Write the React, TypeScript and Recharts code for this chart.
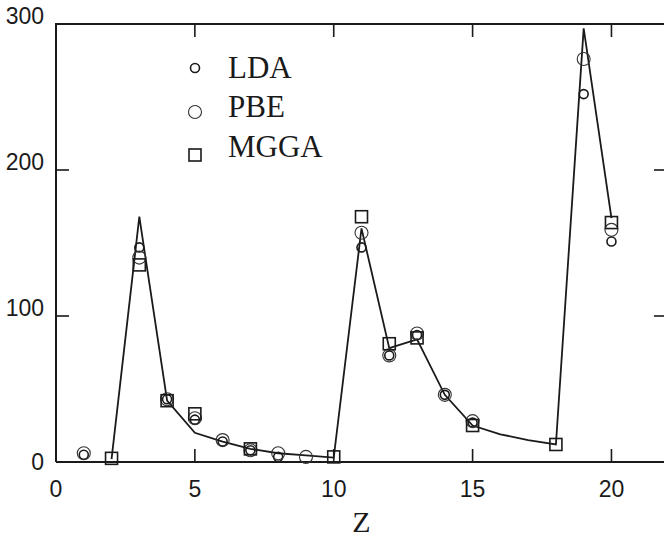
import {
  ComposedChart,
  Line,
  Scatter,
  XAxis,
  YAxis,
  Legend,
} from "recharts";

// atomic number Z and the values
const zValues = [1, 2, 3, 4, 5, 6, 7, 8, 9, 10, 11, 12, 13, 14, 15, 16, 17, 18, 19, 20];
const refCurve = [null, 2, 168, 42, 20, 14, 9, 6, 4.5, 3, 160, 78, 84, 46, 25, 19, 15, 12, 297, 167];
const ldaValues = [5, null, 147, 43, 29, 14, 8, 3.5, null, null, 147, 73, 87, 46, 27, null, null, null, 252, 151];
const pbeValues = [6, null, 140, 43, 30, 15, 8, 6, 3.5, null, 157, 73, 88, 46, 28, null, null, null, 276, 159];
const mggaValues = [null, 2.5, 135, 42, 33, null, 9, null, null, 3.5, 168, 81, 85, null, 25, null, null, 12, null, 164];

const xTicks = [0, 5, 10, 15, 20];
const yTicks = [0, 100, 200, 300];
const X_MIN = 0;
const X_MAX = 22;
const Y_MIN = 0;
const Y_MAX = 300;
// inward tick length (~13px) in axis units
const X_TICK_LEN = 8.9;
const Y_TICK_LEN = 0.47;

const curveData = zValues.map((z, i) => ({ z, v: refCurve[i] }));
const toPoints = (vals: (number | null)[]) =>
  zValues.map((z, i) => ({ z, v: vals[i] })).filter((p) => p.v !== null);

const INK = "#1a1a1a";
const SANS = "'Liberation Sans', Arial, sans-serif";
const SERIF = "'Liberation Serif', 'Times New Roman', serif";
const TICK_PX = 13;
const X_LABEL_GAP = 19;
const Y_LABEL_GAP = 12;

const SmallCircle = (p: any) => (
  <circle cx={p.cx} cy={p.cy} r={4.5} fill="none" stroke={INK} strokeWidth={1.6} />
);
const BigCircle = (p: any) => (
  <circle cx={p.cx} cy={p.cy} r={6.5} fill="none" stroke="#333" strokeWidth={1.1} />
);
const Square = (p: any) => (
  <rect x={p.cx - 6} y={p.cy - 6} width={12} height={12} fill="none" stroke={INK} strokeWidth={1.6} />
);
const NoShape = () => <g />;

// left labels + inward ticks
const YTick = (p: any) => {
  const v = p.payload.value;
  return (
    <g>
      <text
        x={p.x}
        y={p.y}
        dy={v === 0 ? 0 : -8}
        textAnchor="end"
        dominantBaseline="central"
        fill={INK}
        fontSize={23}
        fontFamily={SANS}
      >
        {v}
      </text>
      {v !== Y_MIN && v !== Y_MAX && (
        <rect x={p.x + Y_LABEL_GAP} y={p.y - 0.8} width={TICK_PX} height={1.6} fill={INK} />
      )}
    </g>
  );
};

// bottom labels + inward ticks
const XTick = (p: any) => {
  const v = p.payload.value;
  return (
    <g>
      <text
        x={p.x}
        y={p.y}
        dy="0.71em"
        textAnchor="middle"
        fill={INK}
        fontSize={23}
        fontFamily={SANS}
      >
        {v}
      </text>
      {v !== X_MIN && (
        <rect x={p.x - 0.8} y={p.y - X_LABEL_GAP - TICK_PX} width={1.6} height={TICK_PX} fill={INK} />
      )}
    </g>
  );
};

const LegendBox = () => (
  <svg width={200} height={130} style={{ display: "block" }}>
    <circle cx={35} cy={28} r={4.5} fill="none" stroke={INK} strokeWidth={1.6} />
    <text x={68} y={38} fontSize={31} fontFamily={SERIF} fill={INK}>LDA</text>
    <circle cx={35} cy={72} r={6.5} fill="none" stroke="#333" strokeWidth={1.1} />
    <text x={68} y={77} fontSize={31} fontFamily={SERIF} fill={INK}>PBE</text>
    <rect x={29} y={109} width={12} height={12} fill="none" stroke={INK} strokeWidth={1.6} />
    <text x={68} y={117} fontSize={31} fontFamily={SERIF} fill={INK}>MGGA</text>
  </svg>
);

// box frame and the top / right inward ticks
const frame = [
  { z: X_MIN, v: Y_MIN },
  { z: X_MAX, v: Y_MIN },
  { z: X_MAX, v: Y_MAX },
  { z: X_MIN, v: Y_MAX },
  { z: X_MIN, v: Y_MIN },
];
const tickSegments = [
  ...xTicks.slice(1).map((t) => [{ z: t, v: Y_MAX }, { z: t, v: Y_MAX - X_TICK_LEN }]),
  ...yTicks.slice(1, -1).map((t) => [{ z: X_MAX, v: t }, { z: X_MAX - Y_TICK_LEN, v: t }]),
];

export default function App() {
  return (
    <div style={{ width: 664, height: 537, overflow: "hidden", background: "#fff", position: "relative" }}>
      <style>{`body{margin:0}`}</style>
      <ComposedChart
        width={680}
        height={537}
        data={curveData}
        margin={{ top: 24, right: 13, bottom: 0, left: 0 }}
      >
        <XAxis
          xAxisId="bottom"
          dataKey="z"
          type="number"
          domain={[X_MIN, X_MAX]}
          ticks={xTicks}
          height={75}
          axisLine={false}
          tickLine={false}
          tickSize={0}
          tickMargin={X_LABEL_GAP}
          tick={<XTick />}
          label={{
            value: "Z",
            position: "insideBottom",
            offset: 5,
            fill: INK,
            fontSize: 30,
            fontFamily: SERIF,
          }}
        />
        <YAxis
          yAxisId="left"
          type="number"
          domain={[Y_MIN, Y_MAX]}
          ticks={yTicks}
          width={56}
          axisLine={false}
          tickLine={false}
          tickSize={0}
          tickMargin={Y_LABEL_GAP}
          tick={<YTick />}
        />
        <Legend
          layout="vertical"
          verticalAlign="middle"
          align="center"
          wrapperStyle={{ position: "absolute", left: 160, top: 40, width: 200, height: 130 }}
          content={() => <LegendBox />}
        />

        <Scatter
          xAxisId="bottom"
          yAxisId="left"
          data={frame}
          dataKey="v"
          line={{ stroke: INK, strokeWidth: 2 }}
          shape={NoShape}
          legendType="none"
          isAnimationActive={false}
        />
        {tickSegments.map((seg, i) => (
          <Scatter
            key={`tick${i}`}
            xAxisId="bottom"
            yAxisId="left"
            data={seg}
            dataKey="v"
            line={{ stroke: INK, strokeWidth: 1.6 }}
            shape={NoShape}
            legendType="none"
            isAnimationActive={false}
          />
        ))}

        <Line
          xAxisId="bottom"
          yAxisId="left"
          dataKey="v"
          stroke={INK}
          strokeWidth={1.8}
          dot={false}
          activeDot={false}
          connectNulls={false}
          isAnimationActive={false}
          legendType="none"
        />
        <Scatter
          xAxisId="bottom"
          yAxisId="left"
          name="LDA"
          data={toPoints(ldaValues)}
          dataKey="v"
          shape={SmallCircle}
          isAnimationActive={false}
        />
        <Scatter
          xAxisId="bottom"
          yAxisId="left"
          name="PBE"
          data={toPoints(pbeValues)}
          dataKey="v"
          shape={BigCircle}
          isAnimationActive={false}
        />
        <Scatter
          xAxisId="bottom"
          yAxisId="left"
          name="MGGA"
          data={toPoints(mggaValues)}
          dataKey="v"
          shape={Square}
          isAnimationActive={false}
        />
      </ComposedChart>
    </div>
  );
}
